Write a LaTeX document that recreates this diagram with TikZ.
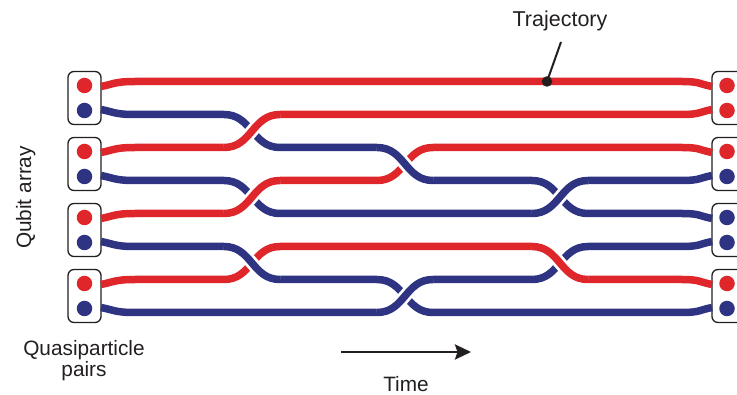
\documentclass[tikz,border=0pt]{standalone}
\usepackage{fontspec}
\setmainfont{Liberation Sans}
\usetikzlibrary{arrows.meta}
\definecolor{qred}{RGB}{222,38,43}
\definecolor{qblue}{RGB}{46,52,130}
\definecolor{ink}{RGB}{35,31,32}
\begin{document}
\begin{tikzpicture}[x=1pt,y=-1pt,
  strand/.style={line width=7.5pt, line cap=butt, line join=round},
  redstrand/.style={strand, draw=qred},
  bluestrand/.style={strand, draw=qblue},
  over/.style={preaction={draw=white, line width=13pt}},
  qbox/.style={draw=ink, line width=1.3pt, rounded corners=6pt, minimum width=33pt, minimum height=53pt, fill=white, inner sep=0pt, outer sep=0pt},
  qdot/.style={circle, minimum size=15.5pt, inner sep=0pt},
  lbl/.style={text=ink, font=\fontsize{20.8}{24}\selectfont, inner sep=0pt}
]
\useasboundingbox (0,0) rectangle (737,395);
\clip (0,0) rectangle (737,395);

% boxes
\node[qbox] (L1) at (84.5,98) {};
\node[qbox] (L2) at (84.5,164) {};
\node[qbox] (L3) at (84.5,230) {};
\node[qbox] (L4) at (84.5,296) {};
\node[qbox] (R1) at (728.5,98) {};
\node[qbox] (R2) at (728.5,164) {};
\node[qbox] (R3) at (728.5,230) {};
\node[qbox] (R4) at (728.5,296) {};

% dots
\node[qdot, fill=qred]  (L1a) at (84.5,85.5) {};
\node[qdot, fill=qblue] (L1b) at (84.5,110.5) {};
\node[qdot, fill=qred]  (L2a) at (84.5,151.5) {};
\node[qdot, fill=qblue] (L2b) at (84.5,176.5) {};
\node[qdot, fill=qred]  (L3a) at (84.5,217.5) {};
\node[qdot, fill=qblue] (L3b) at (84.5,242.5) {};
\node[qdot, fill=qred]  (L4a) at (84.5,283.5) {};
\node[qdot, fill=qblue] (L4b) at (84.5,308.5) {};
\node[qdot, fill=qred]  (R1a) at (727,85.5) {};
\node[qdot, fill=qred]  (R1b) at (727,110.5) {};
\node[qdot, fill=qred]  (R2a) at (727,151.5) {};
\node[qdot, fill=qblue] (R2b) at (727,176.5) {};
\node[qdot, fill=qblue] (R3a) at (727,217.5) {};
\node[qdot, fill=qblue] (R3b) at (727,242.5) {};
\node[qdot, fill=qred]  (R4a) at (727,283.5) {};
\node[qdot, fill=qblue] (R4b) at (727,308.5) {};

% full strands
% A red
\draw[redstrand] (101,86.5) .. controls (114,84) and (115,81.5) .. (135,81.5) -- (682,81.5) .. controls (700,81.5) and (699,84) .. (712,86.5);
% B blue
\draw[bluestrand] (101,109.5) .. controls (114,112) and (115,114.5) .. (135,114.5) -- (224,114.5)
  .. controls (252,114.5) and (252,147.5) .. (280,147.5) -- (377,147.5)
  .. controls (405,147.5) and (405,180.5) .. (433,180.5) -- (532,180.5)
  .. controls (560,180.5) and (560,213.5) .. (588,213.5) -- (682,213.5)
  .. controls (700,213.5) and (699,216) .. (712,218.5);
% C red
\draw[redstrand] (101,152.5) .. controls (114,150) and (115,147.5) .. (135,147.5) -- (224,147.5)
  .. controls (252,147.5) and (252,114.5) .. (280,114.5) -- (682,114.5)
  .. controls (700,114.5) and (699,112) .. (712,109.5);
% D blue
\draw[bluestrand] (101,175.5) .. controls (114,178) and (115,180.5) .. (135,180.5) -- (224,180.5)
  .. controls (252,180.5) and (252,213.5) .. (280,213.5) -- (532,213.5)
  .. controls (560,213.5) and (560,180.5) .. (588,180.5) -- (682,180.5)
  .. controls (700,180.5) and (699,178) .. (712,175.5);
% E red
\draw[redstrand] (101,218.5) .. controls (114,216) and (115,213.5) .. (135,213.5) -- (224,213.5)
  .. controls (252,213.5) and (252,180.5) .. (280,180.5) -- (377,180.5)
  .. controls (405,180.5) and (405,147.5) .. (433,147.5) -- (682,147.5)
  .. controls (700,147.5) and (699,150) .. (712,152.5);
% F blue
\draw[bluestrand] (101,241.5) .. controls (114,244) and (115,246.5) .. (135,246.5) -- (224,246.5)
  .. controls (252,246.5) and (252,279.5) .. (280,279.5) -- (377,279.5)
  .. controls (405,279.5) and (405,312.5) .. (433,312.5) -- (682,312.5)
  .. controls (700,312.5) and (699,310) .. (712,307.5);
% G red
\draw[redstrand] (101,284.5) .. controls (114,282) and (115,279.5) .. (135,279.5) -- (224,279.5)
  .. controls (252,279.5) and (252,246.5) .. (280,246.5) -- (532,246.5)
  .. controls (560,246.5) and (560,279.5) .. (588,279.5) -- (682,279.5)
  .. controls (700,279.5) and (699,282) .. (712,284.5);
% H blue
\draw[bluestrand] (101,307.5) .. controls (114,310) and (115,312.5) .. (135,312.5) -- (377,312.5)
  .. controls (405,312.5) and (405,279.5) .. (433,279.5) -- (532,279.5)
  .. controls (560,279.5) and (560,246.5) .. (588,246.5) -- (682,246.5)
  .. controls (700,246.5) and (699,244) .. (712,241.5);

% over-crossings
\draw[redstrand, over] (224,147.5) .. controls (252,147.5) and (252,114.5) .. (280,114.5);
\draw[redstrand, over] (224,213.5) .. controls (252,213.5) and (252,180.5) .. (280,180.5);
\draw[bluestrand, over] (224,246.5) .. controls (252,246.5) and (252,279.5) .. (280,279.5);
\draw[bluestrand, over] (377,147.5) .. controls (405,147.5) and (405,180.5) .. (433,180.5);
\draw[bluestrand, over] (377,312.5) .. controls (405,312.5) and (405,279.5) .. (433,279.5);
\draw[bluestrand, over] (532,213.5) .. controls (560,213.5) and (560,180.5) .. (588,180.5);
\draw[redstrand, over] (532,246.5) .. controls (560,246.5) and (560,279.5) .. (588,279.5);

% trajectory pointer
\node[circle, fill=ink, minimum size=10.5pt, inner sep=0pt] (tdot) at (547,81.5) {};
\coordinate (tend) at (561,42);
\draw[ink, line width=2pt] (tdot.center) -- (tend);
\node[lbl, anchor=base, font=\fontsize{21.5}{24}\selectfont] (traj) at (560,26.7) {Trajectory};

% labels
\node[lbl, anchor=base, rotate=90] (qa) at (31,197.5) {Qubit array};
\node[lbl, anchor=base] (qp) at (84,356) {Quasiparticle};
\node[lbl, anchor=base] (pairs) at (84,376.5) {pairs};
\coordinate (ta) at (341,352);
\coordinate (tb) at (471,352);
\draw[ink, line width=2.8pt, -{Stealth[length=16pt,width=15pt,inset=2.5pt]}] (ta) -- (tb);
\node[lbl, anchor=base] (time) at (406,392) {Time};
\end{tikzpicture}
\end{document}
